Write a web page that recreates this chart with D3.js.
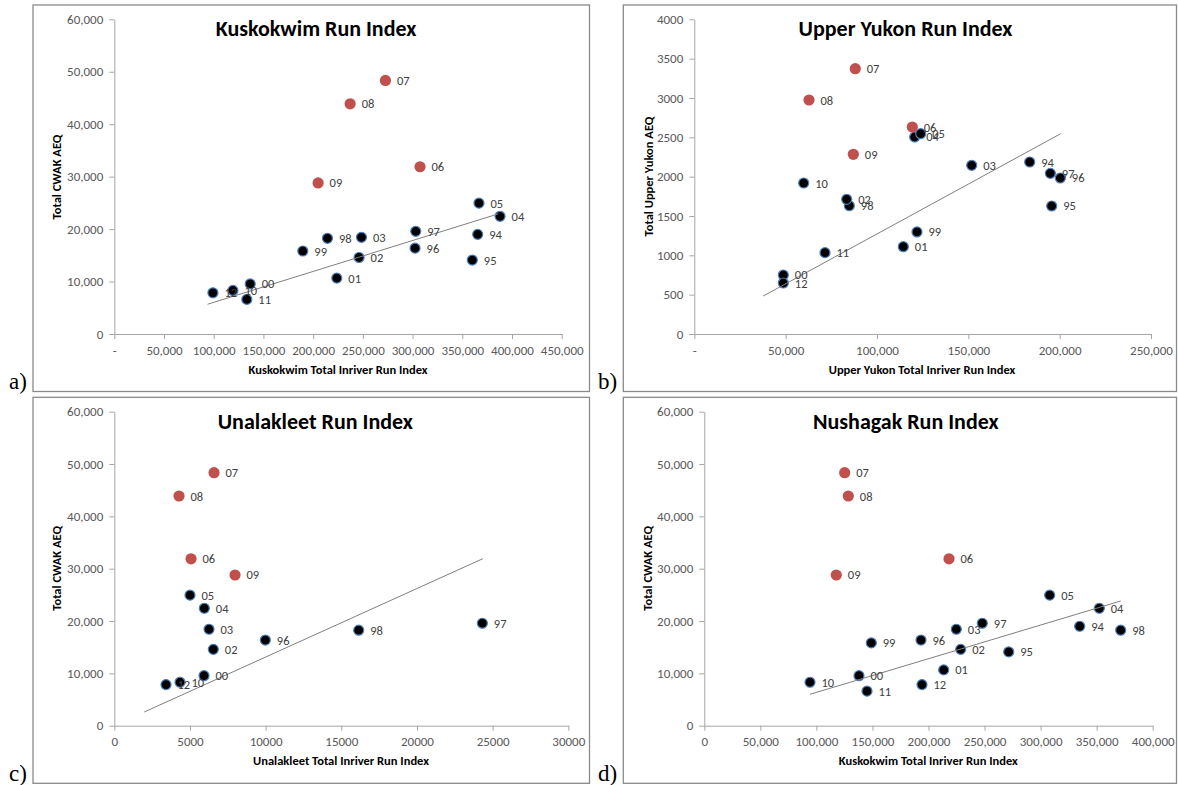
<!DOCTYPE html>
<html>
<head>
<meta charset="utf-8">
<script src="https://cdn.jsdelivr.net/npm/d3@7"></script>
<style>
  html, body { margin: 0; padding: 0; background: #fff; }
  svg { display: block; }
  text { font-family: Carlito, Calibri, Lato, "Open Sans", sans-serif; }
</style>
</head>
<body>
<svg id="chart" width="1178" height="785"></svg>
<script>
// ---------------- DATA ----------------
const years = ["94","95","96","97","98","99","00","01","02","03","04","05","06","07","08","09","10","11","12"];
const highlightYears = ["06","07","08","09"];

// Total CWAK AEQ (y for panels a, c, d)
const cwakAEQ = [19000,14100,16370,19580,18250,15820,9550,10660,14590,18430,22440,24950,31890,48340,43890,28800,8300,6600,7850];

// Panel a: Kuskokwim total inriver run index
const kuskokwimRun = [365500,360100,302500,303200,214400,189600,136700,223800,246200,248600,388000,366800,307500,272700,237200,205000,119300,133300,99200];

// Panel b: Upper Yukon
const upperYukonRun = [183600,195640,200350,194900,84850,121900,48720,114410,83420,151850,120650,123930,119330,88130,62790,87040,59880,71550,48720];
const upperYukonAEQ = [2186,1627,1983,2042,1631,1297,750,1110,1712,2144,2504,2546,2631,3372,2974,2284,1919,1034,648];

// Panel c: Unalakleet (null = not plotted)
const unalakleetRun = [null,null,9980,24320,16150,null,5929,null,6543,6259,5948,5003,5070,6590,4276,7977,4342,null,3417];

// Panel d: Nushagak
const nushagakRun = [334880,271540,193310,248000,371450,148970,138000,213560,228720,224800,352360,308100,218290,125240,128460,117750,94290,145140,194200];

// Trend line end points [x, y]
const trendA = [[93800,5670],[386200,22900]];
const trendB = [[37770,483],[200570,2546]];
const trendC = [[1983,2618],[24350,31910]];
const trendD = [[94290,6000],[371450,23830]];

// Axis ticks
const ticksA_x = [0,50000,100000,150000,200000,250000,300000,350000,400000,450000];
const ticksA_y = [0,10000,20000,30000,40000,50000,60000];
const ticksB_x = [0,50000,100000,150000,200000,250000];
const ticksB_y = [0,500,1000,1500,2000,2500,3000,3500,4000];
const ticksC_x = [0,5000,10000,15000,20000,25000,30000];
const ticksC_y = ticksA_y;
const ticksD_x = [0,50000,100000,150000,200000,250000,300000,350000,400000];
const ticksD_y = ticksA_y;

const titles = ["Kuskokwim Run Index","Upper Yukon Run Index","Unalakleet Run Index","Nushagak Run Index"];
const xTitles = ["Kuskokwim Total Inriver Run Index","Upper Yukon Total Inriver Run Index","Unalakleet Total Inriver Run Index","Kuskokwim Total Inriver Run Index"];
const yTitles = ["Total CWAK AEQ","Total Upper Yukon  AEQ","Total CWAK AEQ","Total CWAK AEQ"];
const panelLetters = ["a)","b)","c)","d)"];

// ---------------- LAYOUT ----------------
const comma = d3.format(",");
const panels = [
  { frame:[33,5,589.5,391.5], plot:[114.3,561.7,19.3,334], xDom:[0,450000], yDom:[0,60000],
    xs:kuskokwimRun, ys:cwakAEQ, trend:trendA, xt:ticksA_x, yt:ticksA_y,
    xf:d=>d===0?"-":comma(d), yf:comma, title:[316,36], xTitle:[338,373.5], yTitle:[57,177], letter:[9,389] },
  { frame:[623.3,5,1176.5,391.5], plot:[694.3,1151,19.3,334], xDom:[0,250000], yDom:[0,4000],
    xs:upperYukonRun, ys:upperYukonAEQ, trend:trendB, xt:ticksB_x, yt:ticksB_y,
    xf:d=>d===0?"-":comma(d), yf:d=>String(d), title:[905.5,36], xTitle:[922,373.5], yTitle:[648.3,176.5], letter:[598,389] },
  { frame:[33,397.3,589.5,783.3], plot:[114.3,568.3,411.7,725.7], xDom:[0,30000], yDom:[0,60000],
    xs:unalakleetRun, ys:cwakAEQ, trend:trendC, xt:ticksC_x, yt:ticksC_y,
    xf:d=>String(d), yf:comma, title:[315.3,428.5], xTitle:[341,764.5], yTitle:[57,568.3], letter:[9,781] },
  { frame:[623.3,397.3,1176.5,783.3], plot:[704.3,1152.7,411.7,725.7], xDom:[0,400000], yDom:[0,60000],
    xs:nushagakRun, ys:cwakAEQ, trend:trendD, xt:ticksD_x, yt:ticksD_y,
    xf:comma, yf:comma, title:[905.8,428.5], xTitle:[928.3,764.5], yTitle:[647.5,568.3], letter:[598,781] }
];

const svg = d3.select("#chart");

panels.forEach((p, i) => {
  const g = svg.append("g");
  const [fx0, fy0, fx1, fy1] = p.frame;
  g.append("rect").attr("x", fx0).attr("y", fy0).attr("width", fx1 - fx0).attr("height", fy1 - fy0)
    .attr("fill", "#fff").attr("stroke", "#8a8a8a").attr("stroke-width", 1.3);

  const [l, r, t, b] = p.plot;
  const x = d3.scaleLinear().domain(p.xDom).range([l, r]);
  const y = d3.scaleLinear().domain(p.yDom).range([b, t]);

  // axes
  const xAxis = d3.axisBottom(x).tickValues(p.xt).tickFormat(p.xf).tickSize(5).tickSizeOuter(0).tickPadding(6);
  const yAxis = d3.axisLeft(y).tickValues(p.yt).tickFormat(p.yf).tickSize(5).tickSizeOuter(0).tickPadding(6);
  const gx = g.append("g").attr("transform", `translate(0,${b})`).call(xAxis);
  const gy = g.append("g").attr("transform", `translate(${l},0)`).call(yAxis);
  [gx, gy].forEach(ax => {
    ax.select(".domain").attr("stroke", "#a6a6a6").attr("stroke-width", 1);
    ax.selectAll(".tick line").attr("stroke", "#a6a6a6").attr("stroke-width", 1);
    ax.selectAll(".tick text").attr("fill", "#595959").style("font-size", "13px")
      .style("font-family", "Carlito, Calibri, Lato, sans-serif");
  });
  gx.selectAll(".tick text").attr("dy", "0.74em");
  gy.selectAll(".tick text").attr("dx", "0");

  const pts = years.map((yr, k) => ({ yr, xv: p.xs[k], yv: p.ys[k], red: highlightYears.includes(yr) }))
    .filter(d => d.xv != null && d.yv != null);

  // points
  g.append("g").selectAll("circle").data(pts).join("circle")
    .attr("cx", d => x(d.xv)).attr("cy", d => y(d.yv))
    .attr("r", d => d.red ? 5.6 : 5)
    .attr("fill", d => d.red ? "#c0504d" : "#000")
    .attr("stroke", d => d.red ? "none" : "#4a7ebb")
    .attr("stroke-width", 1.2);

  // trend line
  g.append("line")
    .attr("x1", x(p.trend[0][0])).attr("y1", y(p.trend[0][1]))
    .attr("x2", x(p.trend[1][0])).attr("y2", y(p.trend[1][1]))
    .attr("stroke", "#7f7f7f").attr("stroke-width", 1);

  // labels
  g.append("g").selectAll("text").data(pts).join("text")
    .attr("x", d => x(d.xv) + 11.5).attr("y", d => y(d.yv)).attr("dy", "0.36em")
    .attr("fill", "#404040").style("font-size", "12.5px").text(d => d.yr);

  // titles
  g.append("text").attr("x", p.title[0]).attr("y", p.title[1]).attr("text-anchor", "middle")
    .style("font-size", "22px").style("font-weight", "bold").attr("fill", "#000").text(titles[i]);
  g.append("text").attr("x", p.xTitle[0]).attr("y", p.xTitle[1]).attr("text-anchor", "middle")
    .style("font-size", "12.5px").style("font-weight", "bold").attr("fill", "#000").text(xTitles[i]);
  g.append("text").attr("transform", `translate(${p.yTitle[0]},${p.yTitle[1]}) rotate(-90)`)
    .attr("text-anchor", "middle").attr("dy", "0.35em")
    .style("font-size", "12.5px").style("font-weight", "bold").attr("fill", "#000").text(yTitles[i]);

  // panel letter
  svg.append("text").attr("x", p.letter[0]).attr("y", p.letter[1])
    .style("font-family", "'Liberation Serif', 'Times New Roman', serif").style("font-size", "23px")
    .attr("fill", "#000").text(panelLetters[i]);
});
</script>
</body>
</html>
